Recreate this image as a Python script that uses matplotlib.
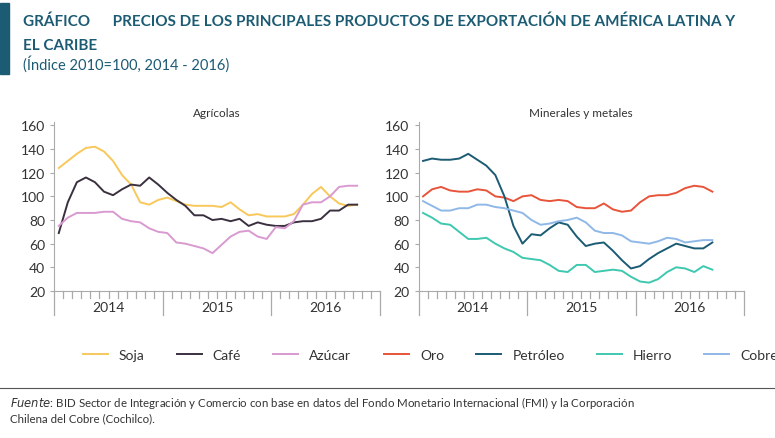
import matplotlib

matplotlib.use("Agg")
import matplotlib.pyplot as plt
import numpy as np

plt.rcParams["font.family"] = ["Lato", "DejaVu Sans"]

# monthly index, Jan 2014 onwards
soja = [124, 130, 136, 141, 142, 138, 130, 118, 110, 95, 93, 97, 99, 96, 93, 92, 92,
        92, 91, 95, 89, 84, 85, 83, 83, 83, 85, 93, 102, 108, 100, 94, 92, 93]
cafe = [69, 95, 112, 116, 112, 104, 101, 106, 110, 109, 116, 110, 103, 97, 92, 84, 84,
        80, 81, 79, 81, 75, 78, 76, 75, 75, 78, 79, 79, 81, 88, 88, 93, 93]
azucar = [75, 82, 86, 86, 86, 87, 87, 81, 79, 78, 73, 70, 69, 61, 60, 58, 56,
          52, 59, 66, 70, 71, 66, 64, 74, 73, 79, 93, 95, 95, 100, 108, 109, 109]
oro = [100, 106, 108, 105, 104, 104, 106, 105, 100, 99, 96, 100, 101, 97, 96, 97, 96,
       91, 90, 90, 94, 89, 87, 88, 95, 100, 101, 101, 103, 107, 109, 108, 104]
petroleo = [130, 132, 131, 131, 132, 136, 131, 126, 118, 100, 75, 60, 68, 67, 73, 78, 76,
            66, 58, 60, 61, 54, 46, 39, 41, 47, 52, 56, 60, 58, 56, 56, 61]
hierro = [86, 82, 77, 76, 70, 64, 64, 65, 60, 56, 53, 48, 47, 46, 42, 37, 36,
          42, 42, 36, 37, 38, 37, 32, 28, 27, 30, 36, 40, 39, 36, 41, 38]
cobre = [96, 92, 88, 88, 90, 90, 93, 93, 91, 90, 88, 86, 80, 76, 77, 79, 80,
         82, 78, 71, 69, 69, 67, 62, 61, 60, 62, 65, 64, 61, 62, 63, 63]
years = ["2014", "2015", "2016"]
yticks = [20, 40, 60, 80, 100, 120, 140, 160]

teal = "#1b5b73"
txt = "#333333"

fig = plt.figure(figsize=(7.75, 4.39), dpi=100)
fig.patches.append(plt.Rectangle((0.0, 0.83), 0.012, 0.16, transform=fig.transFigure,
                                 color=teal))
fig.text(0.03, 0.95, "GRÁFICO      PRECIOS DE LOS PRINCIPALES PRODUCTOS DE EXPORTACIÓN DE AMÉRICA LATINA Y",
         fontsize=11, fontweight="bold", color=teal, va="center")
fig.text(0.03, 0.895, "EL CARIBE", fontsize=11, fontweight="bold", color=teal, va="center")
fig.text(0.03, 0.853, "(Índice 2010=100, 2014 - 2016)", fontsize=10.5, color=teal, va="center")


def panel(ax, title, series):
    for vals, col, lab in series:
        ax.plot(np.arange(len(vals)), vals, color=col, lw=1.4, label=lab)
    ax.set_xlim(-0.5, 35.5)
    ax.set_ylim(20, 163)
    ax.set_yticks(yticks)
    ax.tick_params(axis="y", labelsize=10, colors=txt, length=3, color="#aaaaaa")
    ax.set_xticks([])
    for s in ["top", "right"]:
        ax.spines[s].set_visible(False)
    ax.spines["left"].set_color("#aaaaaa")
    ax.spines["bottom"].set_color("#aaaaaa")
    ax.set_title(title, fontsize=8.5, color=txt, pad=4)
    for m in range(37):
        x = m - 0.5
        long = m % 12 == 0
        ax.plot([x, x], [20, 14 if not long else 0], color="#aaaaaa", lw=0.9,
                clip_on=False)
    for i, y in enumerate(years):
        ax.text(5.5 + 12 * i, 6, y, ha="center", va="center", fontsize=10, color=txt)
    ax.legend(loc="upper center", bbox_to_anchor=(0.5, -0.27), ncol=len(series),
              frameon=False, fontsize=10, handlelength=1.8, columnspacing=2.3,
              labelcolor=txt)


ax1 = fig.add_axes([0.07, 0.335, 0.42, 0.385])
panel(ax1, "Agrícolas", [(soja, "#f8c85a", "Soja"), (cafe, "#3a3040", "Café"),
                         (azucar, "#d89ad0", "Azúcar")])
ax2 = fig.add_axes([0.54, 0.335, 0.42, 0.385])
panel(ax2, "Minerales y metales", [(oro, "#e8543a", "Oro"), (petroleo, "#1b5b73", "Petróleo"),
                                   (hierro, "#3ec8b0", "Hierro"), (cobre, "#8fb8e8", "Cobre")])

fig.add_artist(plt.Line2D([0.0, 1.0], [0.115, 0.115], color="#555555", lw=0.8))
fig.text(0.013, 0.083, r"$\it{Fuente}$: BID Sector de Integración y Comercio con base en datos del Fondo Monetario Internacional (FMI) y la Corporación",
         fontsize=8.3, color=txt, va="center")
fig.text(0.013, 0.045, "Chilena del Cobre (Cochilco).", fontsize=8.3, color=txt, va="center")

fig.savefig("out.png", dpi=100)
